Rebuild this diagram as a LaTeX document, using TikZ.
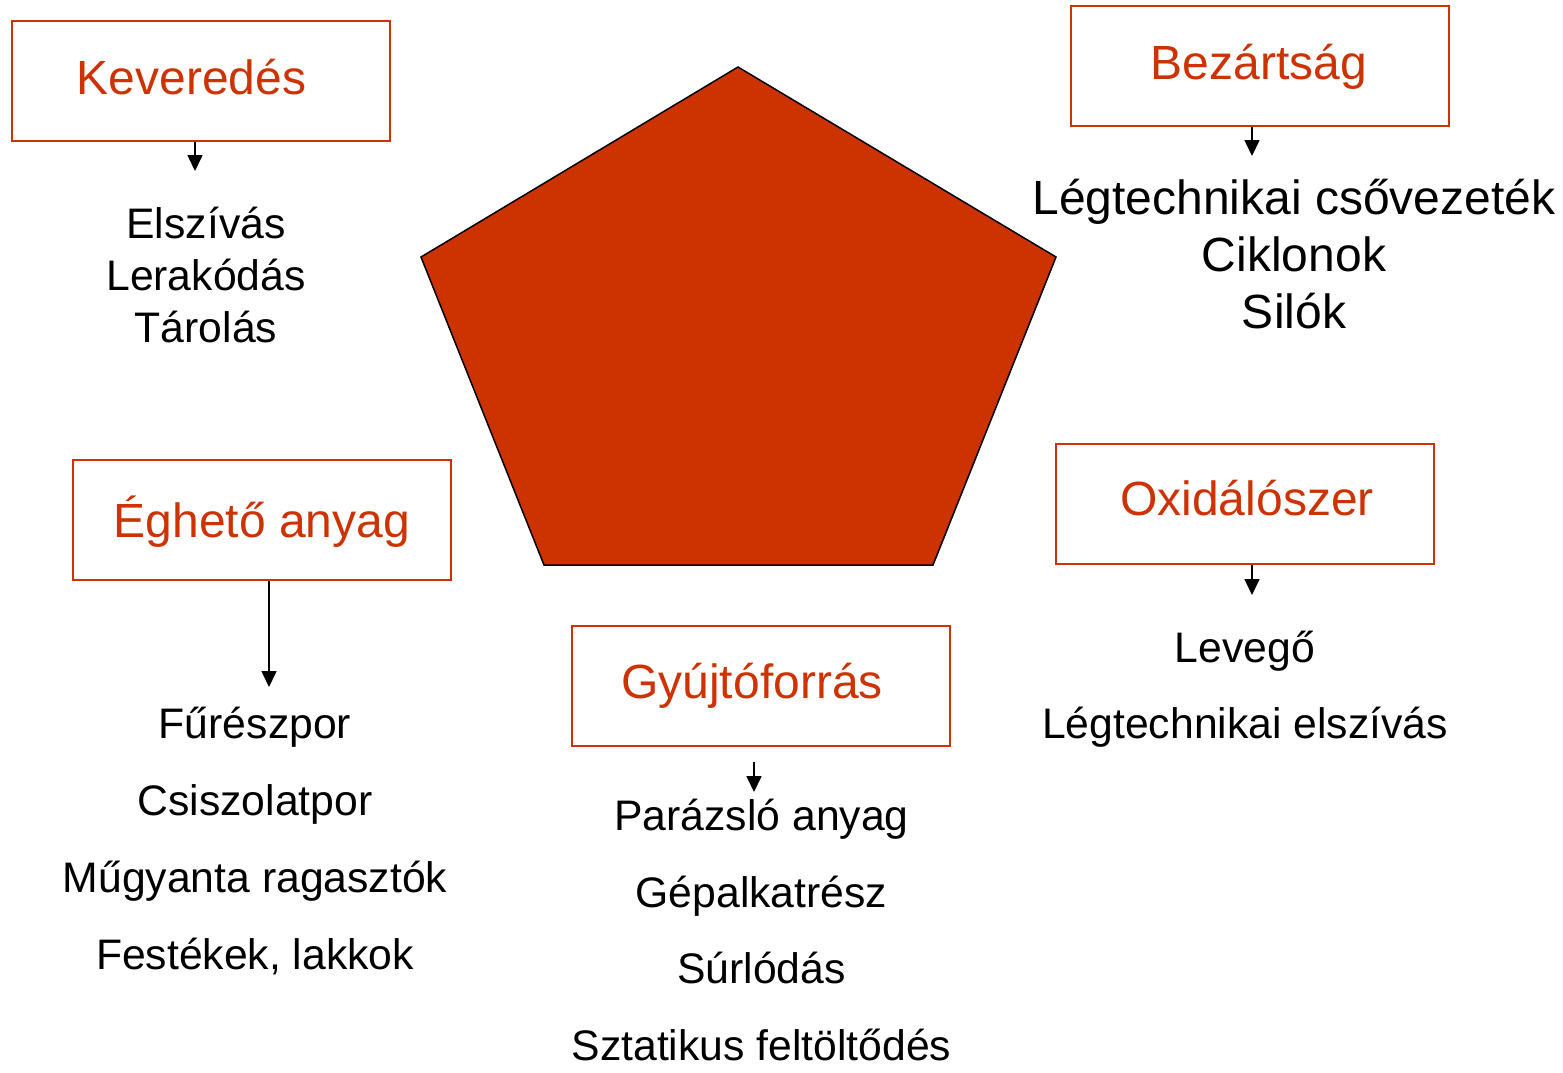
\documentclass[tikz,border=0pt]{standalone}
\usepackage{fontspec}
\setmainfont{Liberation Sans}
\usetikzlibrary{arrows.meta}
\definecolor{fire}{HTML}{CC3300}
\tikzset{
  titlebox/.style={draw=fire, line width=2pt, minimum width=378pt, minimum height=120pt, inner sep=0pt},
  titletext/.style={text=fire, anchor=base, inner sep=0pt, font=\fontsize{48}{48}\selectfont},
  itemtext/.style={text=black, anchor=base, inner sep=0pt, font=\fontsize{42.7}{42.7}\selectfont},
  bigitem/.style={text=black, anchor=base, inner sep=0pt, font=\fontsize{48}{48}\selectfont},
  arr/.style={draw=black, line width=1.6pt, -{Triangle[width=15pt,length=16pt]}}
}
\begin{document}
\begin{tikzpicture}[x=1pt,y=-1pt]
\useasboundingbox[fill=white] (0,0) rectangle (1563,1072);

% pentagon
\draw[fill=fire, draw=black, line width=1.5pt, line join=miter]
  (738,67) -- (1056,257) -- (933,565) -- (544,565) -- (421,257) -- cycle;

% boxes
\node[titlebox] (kev) at (201,81) {};
\node[titlebox] (bez) at (1260,66) {};
\node[titlebox] (egh) at (262,520) {};
\node[titlebox] (oxi) at (1245,504) {};
\node[titlebox] (gyu) at (761,686) {};

% titles
\node[titletext] (kevt) at (191.5,94) {Keveredés};
\node[titletext] (bezt) at (1259,79) {Bezártság};
\node[titletext] (eght) at (262,537) {Éghető anyag};
\node[titletext] (oxit) at (1247,515) {Oxidálószer};
\node[titletext] (gyut) at (752,698) {Gyújtóforrás};

% arrow tips
\coordinate (kevtip) at (195,171);
\coordinate (beztip) at (1252,156);
\coordinate (eghtip) at (269,687);
\coordinate (oxitip) at (1252,595);
\coordinate (gyustart) at (754,762);
\coordinate (gyutip) at (754,792);

\draw[arr] (kevtip |- kev.south) -- (kevtip);
\draw[arr] (beztip |- bez.south) -- (beztip);
\draw[arr] (eghtip |- egh.south) -- (eghtip);
\draw[arr] (oxitip |- oxi.south) -- (oxitip);
\draw[arr] (gyustart) -- (gyutip);

% Keveredés list
\node[itemtext] (k1) at (206,238) {Elszívás};
\node[itemtext] (k2) at (206,290) {Lerakódás};
\node[itemtext] (k3) at (206,342) {Tárolás};

% Bezártság list
\node[bigitem] (b1) at (1294,214.5) {Légtechnikai csővezeték};
\node[bigitem] (b2) at (1294,271.5) {Ciklonok};
\node[bigitem] (b3) at (1294,328.5) {Silók};

% Éghető anyag list
\node[itemtext] (e1) at (255,738) {Fűrészpor};
\node[itemtext] (e2) at (255,815) {Csiszolatpor};
\node[itemtext] (e3) at (255,892) {Műgyanta ragasztók};
\node[itemtext] (e4) at (255,969) {Festékek, lakkok};

% Gyújtóforrás list
\node[itemtext] (g1) at (761.5,830) {Parázsló anyag};
\node[itemtext] (g2) at (761.5,907) {Gépalkatrész};
\node[itemtext] (g3) at (761.5,983) {Súrlódás};
\node[itemtext] (g4) at (761.5,1060) {Sztatikus feltöltődés};

% Oxidálószer list
\node[itemtext] (o1) at (1245,662) {Levegő};
\node[itemtext] (o2) at (1245,738) {Légtechnikai elszívás};
\end{tikzpicture}
\end{document}
